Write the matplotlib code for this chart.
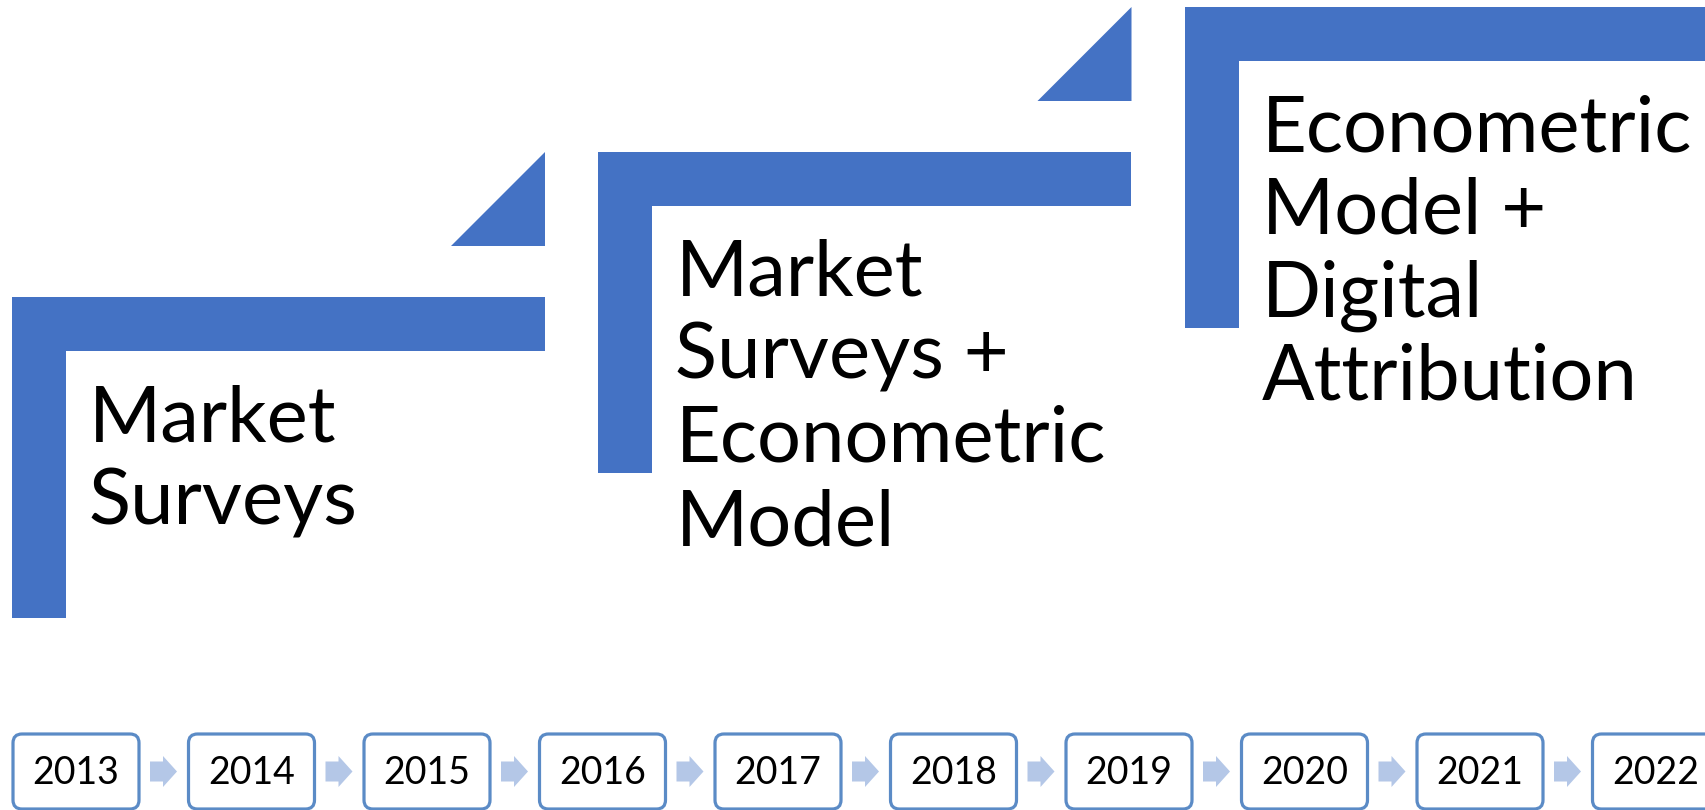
import matplotlib.pyplot as plt
from matplotlib.patches import Polygon, FancyBboxPatch

# the three stages of the step-up diagram
stages = ['Market\nSurveys',
          'Market\nSurveys +\nEconometric\nModel',
          'Econometric\nModel +\nDigital\nAttribution']

# timeline years
years = ['2013', '2014', '2015', '2016', '2017', '2018', '2019', '2020', '2021', '2022']

blue = '#4472C4'
box_edge = '#5B8BC6'
arrow_col = '#B4C7E7'

W, H = 1706, 810
fig = plt.figure(figsize=(W / 100, H / 100), dpi=100)
ax = fig.add_axes([0, 0, 1, 1])
ax.set_xlim(0, W)
ax.set_ylim(H, 0)
ax.axis('off')

# step layout (pixels)
step_x0, step_dx = 12, 586.5
step_y0, step_dy = 297, -145
step_w, step_h, bar = 533, 321, 54
tri = 94

for i, label in enumerate(stages):
    left = step_x0 + i * step_dx
    top = step_y0 + i * step_dy
    right = left + step_w
    bottom = top + step_h
    shape = [(left, bottom), (left, top), (right, top), (right, top + bar),
             (left + bar, top + bar), (left + bar, bottom)]
    ax.add_patch(Polygon(shape, closed=True, facecolor=blue, edgecolor='none'))

    # small triangle leading up to the next step
    if i < len(stages) - 1:
        next_top = top + step_dy
        ax.add_patch(Polygon([(right - tri, next_top + tri), (right, next_top),
                              (right, next_top + tri)],
                             closed=True, facecolor=blue, edgecolor='none'))

    # label, one line at a time
    for j, line in enumerate(label.split('\n')):
        ax.text(left + 77, top + 144 + j * 83, line, fontsize=56, family='Lato',
                va='baseline', ha='left', color='black')

# timeline boxes and arrows
box_x0, box_dx, box_w = 13, 175.5, 126
box_top, box_h = 734, 75
yc = box_top + box_h / 2

for i, yr in enumerate(years):
    bx = box_x0 + i * box_dx
    ax.add_patch(FancyBboxPatch((bx, box_top), box_w, box_h,
                                boxstyle='round,pad=0,rounding_size=9',
                                facecolor='white', edgecolor=box_edge, linewidth=2.3))
    ax.text(bx + box_w / 2, yc + 1, yr, fontsize=27, family='Lato',
            ha='center', va='center', color='black')

    if i < len(years) - 1:
        a0 = bx + box_w + 11
        arrow = [(a0, yc - 10), (a0 + 13, yc - 10), (a0 + 13, yc - 15.5),
                 (a0 + 27, yc), (a0 + 13, yc + 15.5), (a0 + 13, yc + 10), (a0, yc + 10)]
        ax.add_patch(Polygon(arrow, closed=True, facecolor=arrow_col, edgecolor='none'))

plt.savefig('out.png', dpi=100)
